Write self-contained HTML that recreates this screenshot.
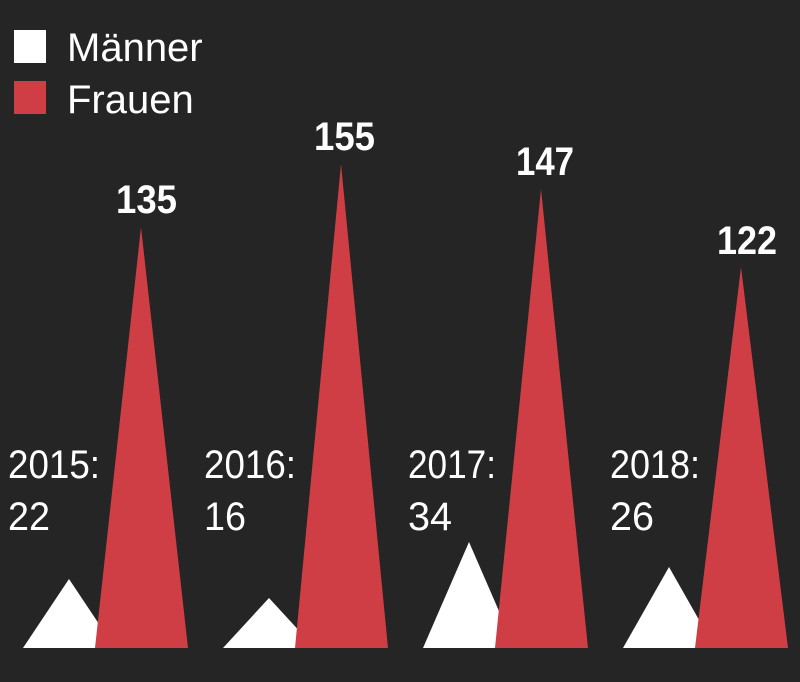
<!DOCTYPE html><html><head><style>body{margin:0;background:#252525;overflow:hidden}</style></head><body>
<svg width="800" height="682" xmlns="http://www.w3.org/2000/svg" style="display:block">
<rect width="800" height="682" fill="#252525"/>
<rect x="14" y="30" width="32" height="33" fill="#fff"/>
<rect x="14" y="81" width="32" height="33" fill="#cf3e44"/>
<g font-family="Liberation Sans, sans-serif" fill="#fff">
<text x="67" y="61" font-size="40">Männer</text>
<text x="67" y="113" font-size="40">Frauen</text>
<g font-size="40">
<text x="8" y="478" textLength="92" lengthAdjust="spacingAndGlyphs">2015:</text><text x="8" y="530" textLength="42" lengthAdjust="spacingAndGlyphs">22</text>
<text x="204" y="478" textLength="92" lengthAdjust="spacingAndGlyphs">2016:</text><text x="204" y="530" textLength="42" lengthAdjust="spacingAndGlyphs">16</text>
<text x="408" y="478" textLength="88" lengthAdjust="spacingAndGlyphs">2017:</text><text x="408" y="530" textLength="44" lengthAdjust="spacingAndGlyphs">34</text>
<text x="610" y="478" textLength="90" lengthAdjust="spacingAndGlyphs">2018:</text><text x="610" y="530" textLength="44" lengthAdjust="spacingAndGlyphs">26</text>
</g>
<g font-size="40" font-weight="bold">
<text x="116" y="213" textLength="61" lengthAdjust="spacingAndGlyphs">135</text>
<text x="314" y="150" textLength="61" lengthAdjust="spacingAndGlyphs">155</text>
<text x="516" y="175" textLength="58" lengthAdjust="spacingAndGlyphs">147</text>
<text x="717" y="254" textLength="60" lengthAdjust="spacingAndGlyphs">122</text>
</g></g>
<g fill="#fff">
<polygon points="23,648 69,579 115,648"/>
<polygon points="223,648 269,598 315,648"/>
<polygon points="423,648 469,542 515,648"/>
<polygon points="623,648 669,567 715,648"/>
</g>
<g fill="#cf3e44">
<polygon points="95,648 141,227 188,648"/>
<polygon points="295,648 341,164 388,648"/>
<polygon points="495,648 541,189 588,648"/>
<polygon points="695,648 741,267 788,648"/>
</g>
</svg></body></html>
